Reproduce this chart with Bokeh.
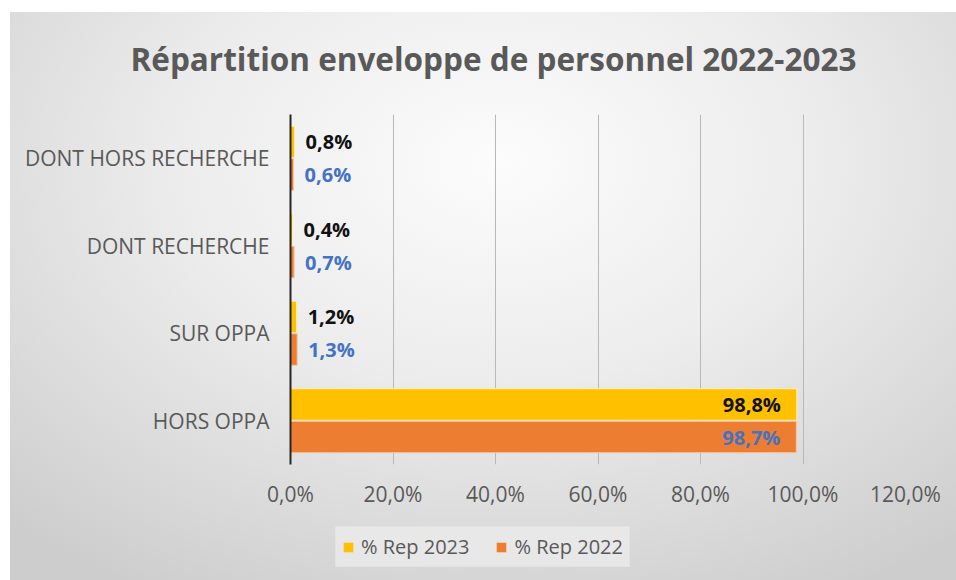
from bokeh.plotting import figure
from bokeh.layouts import column
from bokeh.models import (FactorRange, Range1d, FixedTicker, CustomJSTickFormatter,
                          ColumnDataSource, Legend, LegendItem, Title)
from bokeh.transform import dodge
from bokeh.core.properties import value
from bokeh.embed import file_html
from bokeh.resources import INLINE

# ---- data ----
categories = ["HORS OPPA", "SUR OPPA", "DONT RECHERCHE", "DONT HORS RECHERCHE"]
rep_2023 = [0.988, 0.012, 0.004, 0.008]
rep_2022 = [0.987, 0.013, 0.007, 0.006]
series_names = ["% Rep 2023", "% Rep 2022"]
x_ticks = [0, 0.2, 0.4, 0.6, 0.8, 1.0, 1.2]
title_text = "Répartition enveloppe de personnel 2022-2023"

FONT = "Open Sans"
YELLOW = "#FFC000"
ORANGE = "#ED7D31"
GREY_TXT = "#595959"


def fmt(v):
    return f"{v * 100:.1f}".replace(".", ",") + "%"


def make_source(vals):
    inside = [v > 0.5 for v in vals]
    return ColumnDataSource(dict(
        cat=categories,
        v=vals,
        label=[fmt(v) for v in vals],
        align=["right" if i else "left" for i in inside],
        xoff=[-16 if i else 11 for i in inside],
    ))


src23 = make_source(rep_2023)
src22 = make_source(rep_2022)

bg = ("linear-gradient(to right, #ffffff 10px, rgba(255,255,255,0) 10px), "
      "linear-gradient(to bottom, #ffffff 12px, rgba(255,255,255,0) 12px), "
      "radial-gradient(ellipse 75% 85% at 52% 28%, #fcfcfc 0%, #ececec 45%, #cdcdcd 100%)")

W = 956
H_MAIN = 516
H_LEG = 64

p = figure(width=W, height=H_MAIN, output_backend="svg", toolbar_location=None,
           y_range=FactorRange(factors=categories, range_padding=0),
           x_range=Range1d(0, 1.2),
           min_border_left=290, min_border_right=51,
           min_border_top=110, min_border_bottom=H_MAIN - 464)
p.border_fill_alpha = 0
p.background_fill_alpha = 0
p.outline_line_color = None

p.title = Title(text=title_text, align="left", offset=-160, standoff=69,
                text_font_size="31.5px", text_font=FONT, text_font_style="bold",
                text_color=GREY_TXT)

off = 0.186
bh = 0.36
r23 = p.hbar(y=dodge("cat", off, range=p.y_range), right="v", left=0, height=bh,
             source=src23, fill_color=YELLOW, line_color="#fff1b8", line_width=1)
r22 = p.hbar(y=dodge("cat", -off, range=p.y_range), right="v", left=0, height=bh,
             source=src22, fill_color=ORANGE, line_color="#f6c7a6", line_width=1)

p.text(x="v", y=dodge("cat", off, range=p.y_range), text="label", source=src23,
       text_align="align", x_offset="xoff", text_baseline="middle",
       text_font=value(FONT), text_font_style="bold", text_font_size="20px",
       text_color="#111111")
p.text(x="v", y=dodge("cat", -off, range=p.y_range), text="label", source=src22,
       text_align="align", x_offset="xoff", text_baseline="middle",
       text_font=value(FONT), text_font_style="bold", text_font_size="20px",
       text_color="#4472C4")

# axes
p.xaxis.ticker = FixedTicker(ticks=x_ticks)
p.xaxis.formatter = CustomJSTickFormatter(
    code="return (tick*100).toFixed(1).replace('.', ',') + '%';")
p.xaxis.axis_line_color = None
p.xaxis.major_tick_line_color = None
p.xaxis.minor_tick_line_color = None
p.xaxis.major_label_standoff = 9
p.xaxis.major_label_text_font = FONT
p.xaxis.major_label_text_font_size = "21px"
p.xaxis.major_label_text_color = GREY_TXT

p.yaxis.axis_line_color = "#262626"
p.yaxis.axis_line_width = 2
p.yaxis.major_tick_line_color = None
p.yaxis.minor_tick_line_color = None
p.yaxis.major_tick_out = 0
p.yaxis.major_label_standoff = 21
p.yaxis.major_label_text_font = FONT
p.yaxis.major_label_text_font_size = "21px"
p.yaxis.major_label_text_color = GREY_TXT

p.xgrid.grid_line_color = "#b8b8b8"
p.xgrid.grid_line_width = 1
p.ygrid.grid_line_color = None

# ---- legend strip (separate small figure below the chart) ----
pl = figure(width=W, height=H_LEG, output_backend="svg", toolbar_location=None,
            x_axis_type=None, y_axis_type=None, min_border=0,
            x_range=Range1d(0, 1), y_range=Range1d(0, 1))
pl.border_fill_alpha = 0
pl.background_fill_alpha = 0
pl.outline_line_color = None
pl.xgrid.visible = False
pl.ygrid.visible = False
# zero-width proxy bars (same series sources) that only feed the legend swatches
l23 = pl.hbar(y="v", left="v", right="v", height=0.0, source=src23,
              fill_color=YELLOW, line_color=None)
l22 = pl.hbar(y="v", left="v", right="v", height=0.0, source=src22,
              fill_color=ORANGE, line_color=None)

legend = Legend(items=[LegendItem(label=series_names[0], renderers=[l23]),
                       LegendItem(label=series_names[1], renderers=[l22])],
                orientation="horizontal", location=(45, 13),
                glyph_width=12, glyph_height=12, label_standoff=7, spacing=26,
                padding=6, margin=0,
                label_text_font=FONT, label_text_font_size="20px",
                label_text_color=GREY_TXT,
                background_fill_color="#eeeeee", background_fill_alpha=0.7,
                border_line_color="#dddddd")
pl.add_layout(legend, "center")

layout = column(p, pl, spacing=0, styles={"background": bg})

open("out.html", "w").write(file_html(layout, INLINE))
